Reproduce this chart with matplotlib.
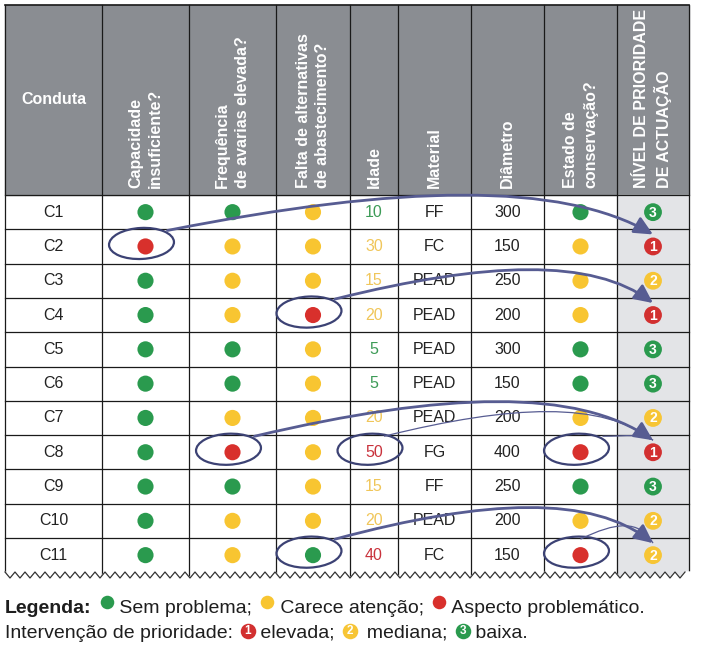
import numpy as np
import matplotlib.pyplot as plt
from matplotlib.patches import Ellipse, Rectangle, Polygon, FancyArrowPatch, PathPatch
from matplotlib.path import Path

plt.rcParams['font.family'] = ['Liberation Sans', 'DejaVu Sans']

# ---- data ----
condutas = ['C1', 'C2', 'C3', 'C4', 'C5', 'C6', 'C7', 'C8', 'C9', 'C10', 'C11']
capacidade = ['G', 'R', 'G', 'G', 'G', 'G', 'G', 'G', 'G', 'G', 'G']
frequencia = ['G', 'Y', 'Y', 'Y', 'G', 'G', 'Y', 'R', 'G', 'Y', 'Y']
falta_alt = ['Y', 'Y', 'Y', 'R', 'Y', 'Y', 'Y', 'Y', 'Y', 'Y', 'G']
idade = [10, 30, 15, 20, 5, 5, 20, 50, 15, 20, 40]
idade_estado = ['G', 'Y', 'Y', 'Y', 'G', 'G', 'Y', 'R', 'Y', 'Y', 'R']
material = ['FF', 'FC', 'PEAD', 'PEAD', 'PEAD', 'PEAD', 'PEAD', 'FG', 'FF', 'PEAD', 'FC']
diametro = [300, 150, 250, 200, 300, 150, 200, 400, 250, 200, 150]
conservacao = ['G', 'Y', 'Y', 'Y', 'G', 'G', 'Y', 'R', 'G', 'Y', 'R']
prioridade = [3, 1, 2, 1, 3, 3, 2, 1, 3, 2, 2]

headers = ['Conduta', 'Capacidade\ninsuficiente?', 'Frequência\nde avarias elevada?',
           'Falta de alternativas\nde abastecimento?', 'Idade', 'Material', 'Diâmetro',
           'Estado de\nconservação?', 'NÍVEL DE PRIORIDADE\nDE ACTUAÇÃO']

# circled cells (row, col)
destaques = [(1, 1), (3, 3), (7, 2), (7, 4), (7, 7), (10, 3), (10, 7)]
# arrows to the priority column: (row, col, start dx, lift, thick)
setas = [(1, 1, 22, 46, True), (3, 3, 22, 38, True), (7, 2, 22, 45, True),
         (7, 4, 10, 32, False), (7, 7, 22, 0, False), (10, 3, 22, 41, True),
         (10, 7, 0, 17, False)]

# ---- style / layout ----
dot_col = {'G': '#2a9a4e', 'Y': '#f8c531', 'R': '#d8302c'}
age_col = {'G': '#3d9b57', 'Y': '#f0c65a', 'R': '#c9323c'}
prio_col = {1: '#d23030', 2: '#f7c535', 3: '#2a9a4e'}
header_bg = '#8a8d92'
prio_bg = '#e3e4e7'
ink = '#3c4274'
arrow_c = '#575c92'

edges = [5, 102, 189, 276, 350, 398, 471, 544, 617, 689]
top, body_top, row_h = 5, 195, 34.3
zz_y = 572

fig = plt.figure(figsize=(7.02, 6.45), dpi=100)
ax = fig.add_axes([0, 0, 1, 1])
ax.set_xlim(0, 702)
ax.set_ylim(645, 0)
ax.axis('off')

def cx(c):
    return (edges[c] + edges[c + 1]) / 2

def cy(r):
    return body_top + row_h * (r + 0.5)

# backgrounds
ax.add_patch(Rectangle((edges[0], top), edges[-1] - edges[0], body_top - top, color=header_bg, zorder=0))
ax.add_patch(Rectangle((edges[8], body_top), edges[9] - edges[8], zz_y + 8 - body_top, color=prio_bg, zorder=0))

# grid
for x in edges:
    ax.plot([x, x], [top, zz_y + 6], color='#1a1a1a', lw=0.9, zorder=1)
ax.plot([edges[0], edges[-1]], [top, top], color='#1a1a1a', lw=1.2, zorder=1)
for r in range(len(condutas)):
    y = body_top + row_h * r
    ax.plot([edges[0], edges[-1]], [y, y], color='#1a1a1a', lw=0.9, zorder=1)

# headers
ax.text(cx(0), 100, headers[0], color='white', fontsize=11.5, fontweight='bold',
        ha='center', va='center')
for c in range(1, 9):
    ax.text(cx(c), 188, headers[c], color='white', fontsize=11.5, fontweight='bold',
            rotation=90, ha='center', va='bottom', multialignment='left', linespacing=1.4)

# body
rows = np.arange(len(condutas))
ys = cy(rows)
for c, col in [(1, capacidade), (2, frequencia), (3, falta_alt), (7, conservacao)]:
    ax.scatter(np.full(len(rows), cx(c)), ys, s=135, c=[dot_col[v] for v in col],
               linewidths=0, zorder=3)
for r in rows:
    y = cy(r)
    ax.text(cx(0), y, condutas[r], fontsize=11.5, ha='center', va='center', color='#222222')
    ax.text(cx(4), y, str(idade[r]), fontsize=11.5, ha='center', va='center',
            color=age_col[idade_estado[r]])
    ax.text(cx(5), y, material[r], fontsize=11.5, ha='center', va='center', color='#222222')
    ax.text(cx(6), y, str(diametro[r]), fontsize=11.5, ha='center', va='center', color='#222222')
ax.scatter(np.full(len(rows), cx(8)), ys, s=165, c=[prio_col[p] for p in prioridade],
           linewidths=0, zorder=3)
for r in rows:
    ax.text(cx(8), cy(r) + 0.5, str(prioridade[r]), fontsize=10, fontweight='bold',
            color='white', ha='center', va='center', zorder=4)

# zigzag cut at the bottom
zx = np.arange(edges[0], edges[-1] + 1, 5.0)
zy = np.where(np.arange(len(zx)) % 2 == 0, zz_y, zz_y + 6)
mask = np.column_stack([np.r_[0, zx, 702, 702, 0], np.r_[zz_y, zy, zz_y, 590, 590]])
ax.add_patch(Polygon(mask, closed=True, color='white', zorder=5))
ax.plot(zx, zy, color='#333333', lw=0.9, zorder=6)

# circled cells
for r, c in destaques:
    ax.add_patch(Ellipse((cx(c) - 4, cy(r) - 3), 65, 31, angle=-3, fill=False,
                         ec=ink, lw=1.6, zorder=7))

# arrows
for r, c, dx0, lift, thick in setas:
    p0 = np.array([cx(c) + dx0, cy(r) - 16])
    p3 = np.array([cx(8), cy(r) - 12])
    dx = p3[0] - p0[0]
    t = min(p0[1], p3[1]) - lift
    p1 = [p0[0] + 0.48 * dx, t]
    p2 = [p3[0] - 0.19 * dx, t - 3]
    path = Path([p0, p1, p2, p3], [Path.MOVETO, Path.CURVE4, Path.CURVE4, Path.CURVE4])
    if thick:
        ax.add_patch(FancyArrowPatch(path=path, arrowstyle='-|>,head_length=0.8,head_width=0.38',
                                     mutation_scale=14, color=arrow_c, lw=2, zorder=8))
    else:
        ax.add_patch(PathPatch(path, fill=False, ec=arrow_c, lw=0.9, zorder=8))

# legend
renderer = fig.canvas.get_renderer()

def put(x, y, s, **kw):
    t = ax.text(x, y, s, va='baseline', ha='left', color='#1e1e1e', **kw)
    return x + t.get_window_extent(renderer).width

fs = 14
y1, y2 = 613, 638
x = put(5, y1, 'Legenda:', fontsize=fs, fontweight='bold')
for k, lab in [('G', ' Sem problema;'), ('Y', ' Carece atenção;'), ('R', ' Aspecto problemático.')]:
    x += 10
    ax.scatter([x + 5], [y1 - 11], s=95, c=dot_col[k], linewidths=0, zorder=3)
    x = put(x + 13, y1, lab, fontsize=fs)
x = put(5, y2, 'Intervenção de prioridade:', fontsize=fs)
for p, lab in [(1, ' elevada;'), (2, '  mediana;'), (3, ' baixa.')]:
    x += 9
    ax.scatter([x + 6], [y2 - 7], s=125, c=prio_col[p], linewidths=0, zorder=3)
    ax.text(x + 6, y2 - 6.5, str(p), fontsize=8.5, fontweight='bold', color='white',
            ha='center', va='center', zorder=4)
    x = put(x + 13, y2, lab, fontsize=fs)

fig.savefig('out.png', dpi=100)
